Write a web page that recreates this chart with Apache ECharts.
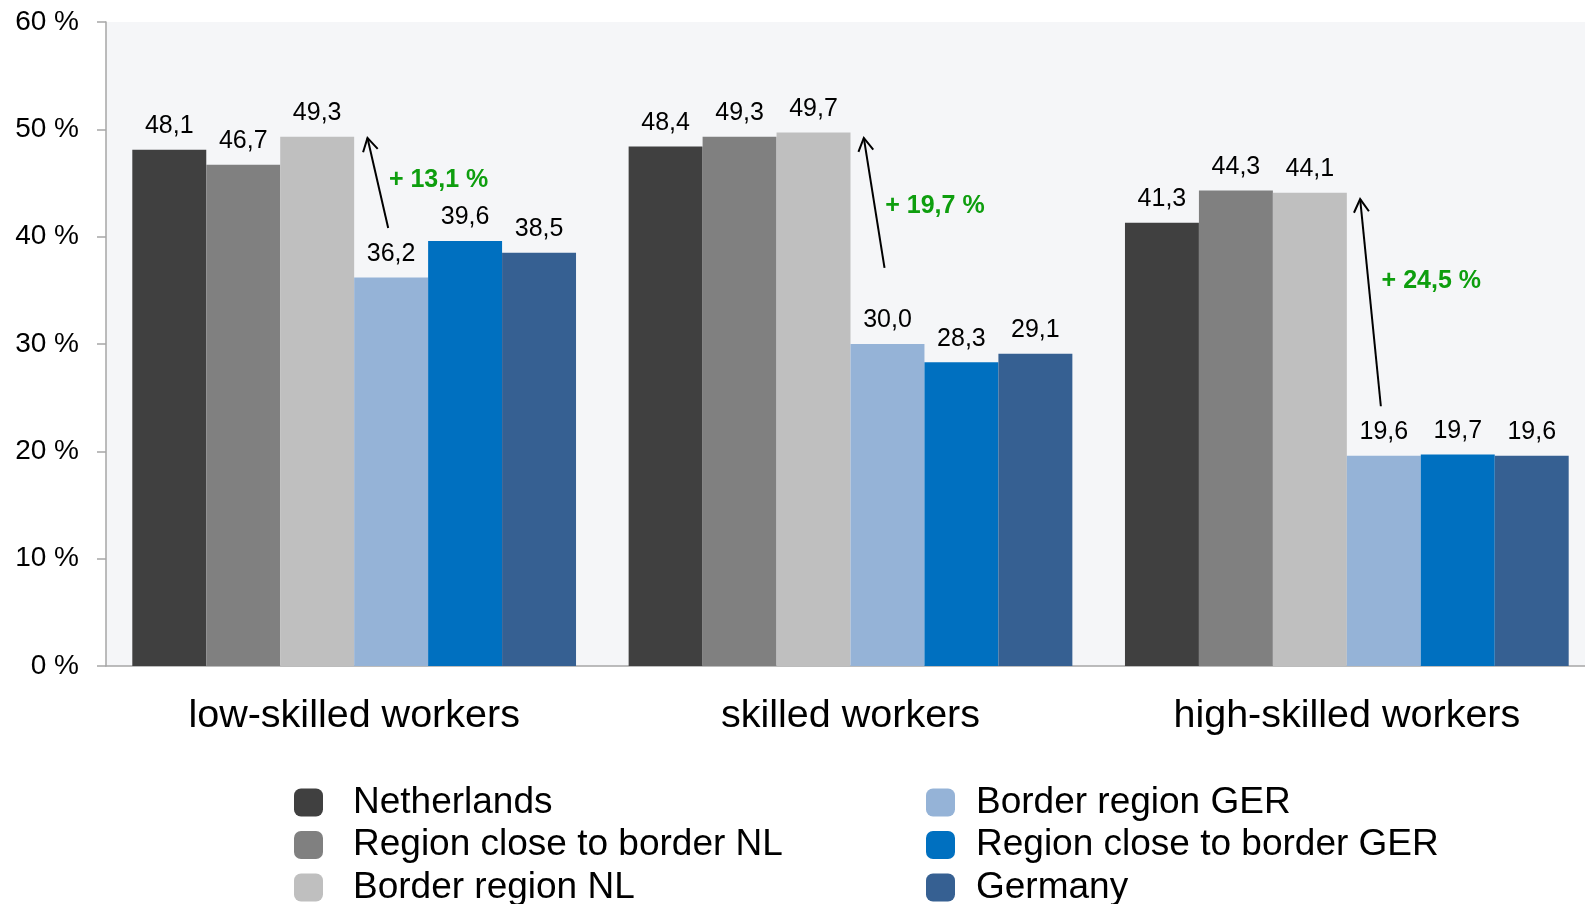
<!DOCTYPE html>
<html>
<head>
<meta charset="utf-8">
<script src="https://cdn.jsdelivr.net/npm/echarts@6/dist/echarts.min.js"></script>
<style>html,body{margin:0;padding:0;background:#fff}#c{width:1585px;height:904px}</style>
</head>
<body>
<div id="c"></div>
<script>
var categories = ['low-skilled workers', 'skilled workers', 'high-skilled workers'];
var seriesNames = ['Netherlands', 'Region close to border NL', 'Border region NL', 'Border region GER', 'Region close to border GER', 'Germany'];
var netherlands = [48.1, 48.4, 41.3];
var regionCloseNL = [46.7, 49.3, 44.3];
var borderNL = [49.3, 49.7, 44.1];
var borderGER = [36.2, 30.0, 19.6];
var regionCloseGER = [39.6, 28.3, 19.7];
var germany = [38.5, 29.1, 19.6];
var yTicks = { min: 0, max: 60, interval: 10 };
var diffLabels = ['+ 13,1 %', '+ 19,7 %', '+ 24,5 %'];
var arrowFrom = [40.8, 37.1, 24.2];
var arrowTo = [49.2, 49.2, 43.5];
var diffLabelAt = [45.25, 42.85, 35.85];

var colors = ['#404040', '#808080', '#BFBFBF', '#95B3D7', '#0070C0', '#366092'];
var values = [netherlands, regionCloseNL, borderNL, borderGER, regionCloseGER, germany];
var FONT = '"Liberation Sans", Arial, sans-serif';
var GAP = 0.106;

var chart = echarts.init(document.getElementById('c'));

var barSeries = seriesNames.map(function (n, i) {
  return {
    name: n, type: 'bar', data: values[i], barGap: '0%', barCategoryGap: (GAP * 100) + '%',
    itemStyle: { color: colors[i] },
    label: {
      show: true, position: 'top', distance: 11, color: '#000', fontSize: 25, fontFamily: FONT,
      formatter: function (p) { return p.value.toFixed(1).replace('.', ','); }
    }
  };
});

var arrowData = categories.map(function (c, i) { return [i, arrowFrom[i], arrowTo[i], diffLabelAt[i]]; });

barSeries.push({
  type: 'custom', name: 'arrows', data: arrowData, z: 10, clip: false,
  renderItem: function (params, api) {
    var idx = api.value(0);
    var band = api.size([1, 0])[0];
    var barW = band * (1 - GAP) / 6;
    var cx = api.coord([idx, 0])[0];
    var p0 = [cx + 0.46 * barW, api.coord([idx, api.value(1)])[1]];
    var p1 = [cx + 0.18 * barW, api.coord([idx, api.value(2)])[1]];
    var ang = Math.atan2(p1[1] - p0[1], p1[0] - p0[0]);
    var L = 15, A = Math.PI / 6;
    var h1 = [p1[0] - L * Math.cos(ang - A), p1[1] - L * Math.sin(ang - A)];
    var h2 = [p1[0] - L * Math.cos(ang + A), p1[1] - L * Math.sin(ang + A)];
    var ly = api.coord([idx, api.value(3)])[1];
    return {
      type: 'group',
      children: [
        { type: 'line', shape: { x1: p0[0], y1: p0[1], x2: p1[0], y2: p1[1] }, style: { stroke: '#000', lineWidth: 2 } },
        { type: 'polyline', shape: { points: [h1, p1, h2] }, style: { stroke: '#000', lineWidth: 2, fill: null } },
        { type: 'text', x: cx + 0.47 * barW, y: ly, style: { text: diffLabels[params.dataIndex], fill: '#0E9E0E', font: 'bold 25px ' + FONT, textAlign: 'left', textVerticalAlign: 'middle' } }
      ]
    };
  }
});

var legends = seriesNames.map(function (n, i) {
  var col = Math.floor(i / 3), row = i % 3;
  return {
    orient: 'horizontal', padding: 0, left: col === 0 ? 294 : 926, top: 784 + row * 42.5,
    itemWidth: 29, itemHeight: 28, icon: 'roundRect', data: [n],
    textStyle: { fontSize: 37, fontFamily: FONT, color: '#000', lineHeight: 36, padding: [0, 0, 0, col === 0 ? 25 : 16] }
  };
});

chart.setOption({
  animation: false,
  grid: { left: 106, width: 1489, top: 22, bottom: 238, outerBoundsMode: 'none', containLabel: false, show: true, backgroundColor: '#F5F6F8', borderWidth: 0 },
  legend: legends,
  xAxis: {
    type: 'category', data: categories,
    axisLine: { show: true, lineStyle: { color: '#A6A6A6', width: 1.5 } },
    axisTick: { show: false },
    axisLabel: { fontSize: 39.5, fontFamily: FONT, color: '#000', margin: 30 }
  },
  yAxis: {
    type: 'value', min: yTicks.min, max: yTicks.max, interval: yTicks.interval,
    axisLine: { show: true, lineStyle: { color: '#A6A6A6', width: 1.5 } },
    axisTick: { show: true, length: 9, lineStyle: { color: '#A6A6A6', width: 1.5 } },
    splitLine: { show: false },
    axisLabel: { fontSize: 28, fontFamily: FONT, color: '#000', margin: 27, formatter: '{value} %' }
  },
  series: barSeries
});
</script>
</body>
</html>
